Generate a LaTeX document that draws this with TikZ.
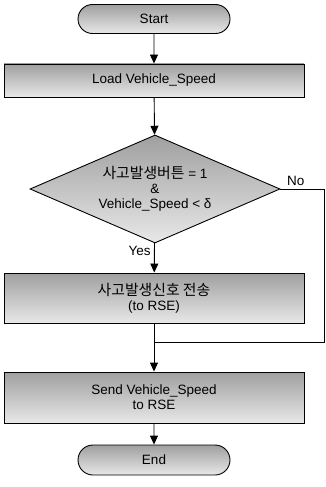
\documentclass[tikz,border=0pt]{standalone}
\usepackage{fontspec}
\setmainfont{Liberation Sans}
\newfontfamily\kfont[Scale=1.1]{Noto Sans CJK KR}
\usetikzlibrary{arrows.meta,shapes.geometric,shapes.misc}
\tikzset{
  termbox/.style = {rounded rectangle,draw,line width=0.9pt,top color=gray!75,bottom color=gray!18,
                    minimum width=152pt,minimum height=29pt,inner sep=0pt},
  procbox/.style = {rectangle,draw,line width=0.9pt,top color=gray!75,bottom color=gray!18,
                    minimum width=300pt,inner sep=0pt,align=center},
  decbox/.style  = {diamond,draw,line width=0.9pt,top color=gray!75,bottom color=gray!18,
                    minimum width=250pt,minimum height=108pt,inner sep=0pt},
  flowarr/.style = {-{Triangle[length=9pt,width=8pt]},line width=0.9pt},
  flowline/.style = {line width=0.7pt}
}

\begin{document}
\begin{tikzpicture}[x=1pt,y=-1pt,font=\fontsize{13.5}{15}\selectfont]
  \useasboundingbox (0,0) rectangle (326,487);
  \node[termbox] (start) at (154,19) {Start};
  \node[procbox,minimum height=33pt] (load) at (154,80.5) {Load Vehicle\_Speed};
  \node[decbox,label={[align=center]center:{\kfont 사고발생버튼} = 1\\ \&\\ Vehicle\_Speed \textless{} δ}] (cond) at (155,189) {};
  \node[procbox,minimum height=50pt] (sig) at (154,298) {{\kfont 사고발생신호 전송}\\ (to RSE)};
  \node[procbox,minimum height=51pt] (send) at (154,397.5) {Send Vehicle\_Speed\\ to RSE};
  \node[termbox,minimum height=30pt] (end) at (154,460) {End};
  \coordinate (nocorner) at (324,189);
  \coordinate (join) at (324,342);

  \draw[flowarr] (start) -- (load);
  \draw[flowarr] (load) -- (cond);
  \draw[flowarr] (cond) -- node[left,pos=0.25] {Yes} (sig);
  \draw[flowline] (cond.east) -- node[above,pos=0.35] {No} (nocorner) -- (join) -- (sig.south |- join);
  \draw[flowarr] (sig) -- (send);
  \draw[flowarr] (send) -- (end);
\end{tikzpicture}
\end{document}
